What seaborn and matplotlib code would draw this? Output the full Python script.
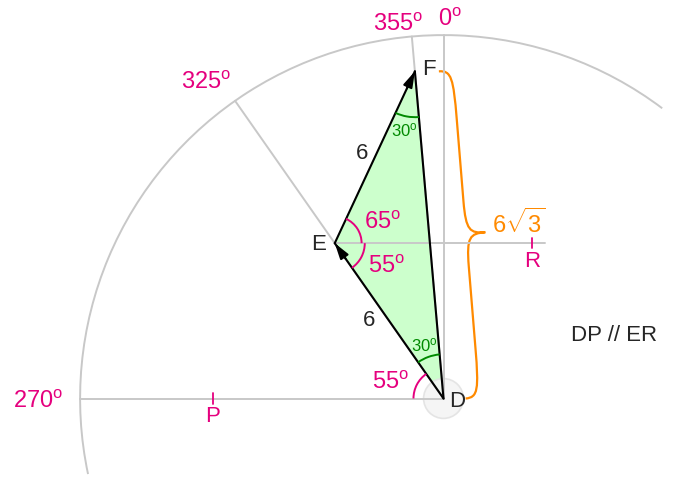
#%%
import numpy as np
import matplotlib
matplotlib.use("Agg")
import matplotlib.pyplot as plt
import seaborn as sns
from matplotlib.patches import Arc, Circle, PathPatch
from matplotlib.path import Path

sns.set_style("white")
plt.rcParams["font.family"] = ["Liberation Sans", "DejaVu Sans"]
plt.rcParams["mathtext.fontset"] = "custom"
plt.rcParams["mathtext.rm"] = "Liberation Sans"
plt.rcParams["mathtext.it"] = "Liberation Sans:italic"

# %%
# Datos del diagrama
rumbos = [0, 355, 325, 270]               # rayos desde D
rumbos_txt = ["0", "355", "325", "270"]
rumbo_E = 325
rumbo_F = 355
lado_DE = 6
lado_EF = 6
lado_DF = 6 * np.sqrt(3)
lado_DF_txt = r"$6\sqrt{3}$"
ang_F = 30
ang_D = 30
ang_E_arriba = 65
ang_E_abajo = 55
ang_D_oeste = 55
radio = 11.5
largo_ER = 6.65    # linea horizontal desde E
pos_R = 6.25       # marca R sobre la linea de E
pos_P = 7.3        # marca P sobre la linea de D
nota = "DP // ER"

# colores
gris = "#c8c8c8"
magenta = "#e5007e"
verde = "#008a00"
naranja = "#ff8a00"
relleno = "#ccffcc"

# escala: px por unidad
s = 31.6
W, H = 686, 479
Dpx = (443.5, 398.5)


def vec(rumbo):
    """rumbo (grados desde el norte, horario) -> vector unitario"""
    b = np.radians(rumbo)
    return np.array([np.sin(b), np.cos(b)])


def grado(txt):
    return txt + r"$^{\mathrm{o}}$"


def linea(ax, a, b, **kw):
    # estimator=None: sin agregar puntos con la misma x
    sns.lineplot(x=[a[0], b[0]], y=[a[1], b[1]], ax=ax, sort=False,
                 estimator=None, **kw)


D = np.array([0.0, 0.0])
E = D + lado_DE * vec(rumbo_E)
F = D + lado_DF * vec(rumbo_F)

# %%
fig = plt.figure(figsize=(W / 100, H / 100), dpi=100)
ax = fig.add_axes([0, 0, 1, 1])
ax.set_xlim(-Dpx[0] / s, (W - Dpx[0]) / s)
ax.set_ylim(-(H - Dpx[1]) / s, Dpx[1] / s)
ax.axis("off")

# triangulo (relleno debajo de las lineas grises)
tri = np.array([D, E, F])
ax.fill(tri[:, 0], tri[:, 1], color=relleno, zorder=1)

# circulo de rumbos
ax.add_patch(Arc((0, 0), 2 * radio, 2 * radio, theta1=53, theta2=192,
                 color=gris, lw=1.4, zorder=2))
ax.add_patch(Circle((0, 0), 0.63, facecolor="#f4f4f4", edgecolor="#e2e2e2",
                    lw=1.2, zorder=1.5, alpha=0.9))

# rayos
for r in rumbos:
    linea(ax, D, radio * vec(r), color=gris, lw=1.4, zorder=2)

# linea horizontal por E
linea(ax, E, E + np.array([largo_ER, 0]), color=gris, lw=1.4, zorder=2)

# marcas P y R
for xm, ym, nom in [(-pos_P, 0, "P"), (E[0] + pos_R, E[1], "R")]:
    linea(ax, (xm, ym - 0.16), (xm, ym + 0.16), color=magenta, lw=1.3, zorder=3)
    ax.text(xm, ym - 0.58, nom, color=magenta, fontsize=16, ha="center", va="center")

# etiquetas de rumbos
desp = {0: (0.19, 0.49), 355: (-0.42, 0.37), 325: (-0.93, 0.58), 270: (-1.32, -0.12)}
for r, t in zip(rumbos, rumbos_txt):
    p = radio * vec(r) + np.array(desp[r])
    ax.text(p[0], p[1], grado(t), color=magenta, fontsize=17, ha="center", va="center")

# lados
for a, b in [(D, E), (E, F), (F, D)]:
    linea(ax, a, b, color="black", lw=1.5, zorder=4)

# puntas de flecha en E y F
for a, b in [(D, E), (E, F)]:
    u = (b - a) / np.linalg.norm(b - a)
    ax.annotate("", xy=b, xytext=b - 0.6 * u,
                arrowprops=dict(arrowstyle="-|>,head_length=0.6,head_width=0.18",
                                color="black", lw=1.4, shrinkA=0, shrinkB=0,
                                mutation_scale=16), zorder=5)


def ang(v):
    return np.degrees(np.arctan2(v[1], v[0]))


# arcos de angulos
a_FE, a_FD = ang(E - F), ang(D - F)
ax.add_patch(Arc(F, 2.9, 2.9, theta1=a_FE, theta2=a_FD, color=verde, lw=1.4, zorder=5))
a_DF, a_DE = ang(F - D), ang(E - D)
ax.add_patch(Arc(D, 2.8, 2.8, theta1=a_DF, theta2=a_DE, color=verde, lw=1.4, zorder=5))
ax.add_patch(Arc(D, 1.9, 1.9, theta1=a_DE, theta2=180, color=magenta, lw=1.4, zorder=5))
a_EF, a_ED = ang(F - E), ang(D - E)
ax.add_patch(Arc(E, 1.7, 1.7, theta1=0, theta2=a_EF, color=magenta, lw=1.4, zorder=5))
ax.add_patch(Arc(E, 1.9, 1.9, theta1=a_ED, theta2=0, color=magenta, lw=1.4, zorder=5))


# textos de angulos
def en_bisectriz(P, a1, a2, d):
    m = np.radians((a1 + a2) / 2)
    return P + d * np.array([np.cos(m), np.sin(m)])


p = en_bisectriz(F, a_FE, a_FD, 1.9)
ax.text(p[0], p[1], grado(str(ang_F)), color=verde, fontsize=12, ha="center", va="center", zorder=6)
p = en_bisectriz(D, a_DF, a_DE, 1.8)
ax.text(p[0], p[1], grado(str(ang_D)), color=verde, fontsize=12, ha="center", va="center", zorder=6)
p = E + np.array([1.52, 0.63])
ax.text(p[0], p[1], grado(str(ang_E_arriba)), color=magenta, fontsize=17, ha="center", va="center", zorder=6)
p = E + np.array([1.65, -0.76])
ax.text(p[0], p[1], grado(str(ang_E_abajo)), color=magenta, fontsize=17, ha="center", va="center", zorder=6)
p = D + np.array([-1.68, 0.5])
ax.text(p[0], p[1], grado(str(ang_D_oeste)), color=magenta, fontsize=17, ha="center", va="center", zorder=6)

# nombres de vertices
ax.text(F[0] + 0.45, F[1] + 0.05, "F", fontsize=16, ha="center", va="center", zorder=6)
ax.text(E[0] - 0.5, E[1] - 0.05, "E", fontsize=16, ha="center", va="center", zorder=6)
ax.text(D[0] + 0.42, D[1] - 0.08, "D", fontsize=16, ha="center", va="center", zorder=6)

# longitudes
for a, b, l, off in [(D, E, lado_DE, (-0.62, 0.0)), (E, F, lado_EF, (-0.39, 0.12))]:
    m = (a + b) / 2 + np.array(off)
    ax.text(m[0], m[1], str(l), fontsize=16, ha="center", va="center")

# %%
# llave naranja junto a DF
A = F + np.array([0.76, 0])
B = D + np.array([0.70, 0])
L = np.linalg.norm(B - A)
u = (B - A) / L
n = np.array([-u[1], u[0]])
h = L / 2
w1, w2 = 0.44, 1.05
loc = [(0, 0), (0, 0.9 * w1), (0.05 * h, w1), (0.3 * h, w1),
       (0.8 * h, w1),
       (0.98 * h, w1), (h, w1 + 0.2 * (w2 - w1)), (h, w2),
       (h, w1 + 0.2 * (w2 - w1)), (L - 0.98 * h, w1), (L - 0.8 * h, w1),
       (L - 0.3 * h, w1),
       (L - 0.05 * h, w1), (L, 0.9 * w1), (L, 0)]
codes = [Path.MOVETO, Path.CURVE4, Path.CURVE4, Path.CURVE4,
         Path.LINETO,
         Path.CURVE4, Path.CURVE4, Path.CURVE4,
         Path.CURVE4, Path.CURVE4, Path.CURVE4,
         Path.LINETO,
         Path.CURVE4, Path.CURVE4, Path.CURVE4]
verts = [A + t * u + k * n for t, k in loc]
ax.add_patch(PathPatch(Path(verts, codes), facecolor="none", edgecolor=naranja, lw=1.6))
tip = A + h * u + w2 * n
ax.text(tip[0] + 0.22, tip[1] + 0.3, lado_DF_txt, color=naranja, fontsize=17,
        ha="left", va="center")

ax.text(5.41, 1.99, nota, fontsize=16, ha="center", va="center")

plt.savefig("out.png", dpi=100)
